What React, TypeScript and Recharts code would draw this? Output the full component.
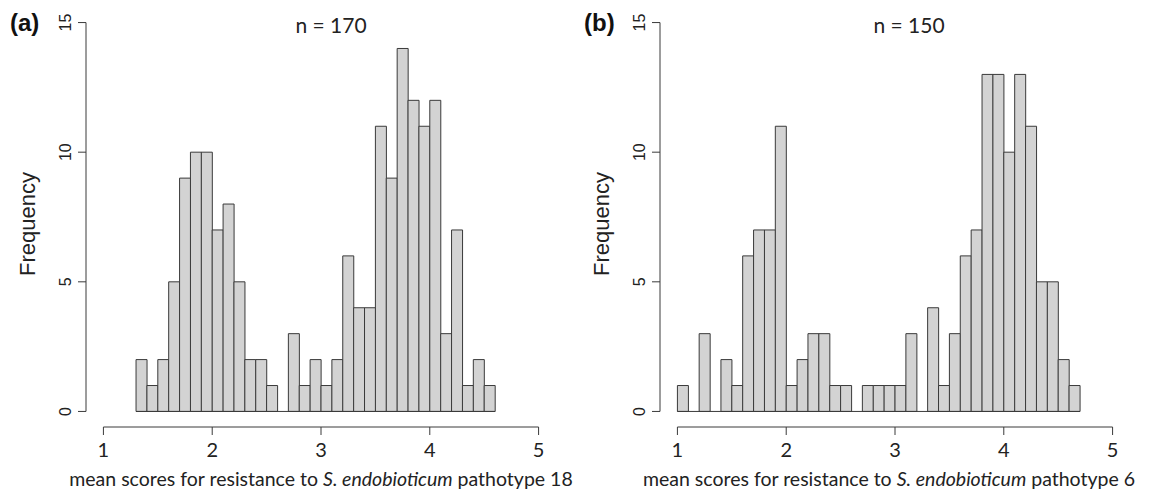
import { Bar, BarChart, Label, ReferenceLine, XAxis, YAxis } from 'recharts'

const binWidth = 0.1
const firstEdgeA = 1.3
const countsA = [2, 1, 2, 5, 9, 10, 10, 7, 8, 5, 2, 2, 1, 0, 3, 1, 2, 1, 2, 6, 4, 4, 11, 9, 14, 12, 11, 12, 3, 7, 1, 2, 1]
const firstEdgeB = 1.0
const countsB = [1, 0, 3, 0, 2, 1, 6, 7, 7, 11, 1, 2, 3, 3, 1, 1, 0, 1, 1, 1, 1, 3, 0, 4, 1, 3, 6, 7, 13, 13, 10, 13, 11, 5, 5, 2, 1]

const xTicks = [1, 2, 3, 4, 5]
const yTicks = [0, 5, 10, 15]
const xDomain: [number, number] = [0.84, 5.16]
const yDomain: [number, number] = [-0.6, 15.6]

const ink = '#3a3a3a'
const calibriLike = 'Lato, "Open Sans", sans-serif'
const arialLike = '"Liberation Sans", Arial, sans-serif'

function toBins(firstEdge: number, counts: number[]) {
  return counts.map((count, i) => {
    const lo = firstEdge + i * binWidth
    return { mid: +(lo + binWidth / 2).toFixed(3), count }
  })
}

const XTick = ({ x, y, payload }: any) => (
  <text x={x} y={y + 20} textAnchor="middle" fontFamily={calibriLike} fontSize={20} fill="#222">
    {payload.value}
  </text>
)

const YTick = ({ x, y, payload }: any) => (
  <text
    x={x - 10}
    y={y}
    transform={`rotate(-90, ${x - 10}, ${y})`}
    textAnchor="middle"
    dominantBaseline="central"
    fontFamily={arialLike}
    fontSize={16}
    fill="#222"
  >
    {payload.value}
  </text>
)

function Panel({ tag, title, pathotype, firstEdge, counts, titleX, labelDx }: any) {
  const data = toBins(firstEdge, counts)
  const lastEdge = firstEdge + counts.length * binWidth
  return (
    <div style={{ position: 'relative', width: 574, height: 493 }}>
      <div
        style={{
          position: 'absolute',
          left: 10,
          top: 8,
          fontFamily: arialLike,
          fontWeight: 'bold',
          fontSize: 24,
          lineHeight: '30px',
          color: '#111',
        }}
      >
        {tag}
      </div>
      <div
        style={{
          position: 'absolute',
          left: titleX - 60,
          width: 120,
          top: 10,
          textAlign: 'center',
          fontFamily: calibriLike,
          fontSize: 21,
          lineHeight: '30px',
          color: '#222',
        }}
      >
        {title}
      </div>
      <BarChart
        width={574}
        height={493}
        data={data}
        margin={{ top: 7, right: 18, bottom: 0, left: 0 }}
        barCategoryGap={0}
        barGap={0}
        style={{ overflow: 'visible' }}
      >
        <XAxis
          dataKey="mid"
          type="number"
          domain={xDomain}
          ticks={xTicks}
          allowDataOverflow
          axisLine={false}
          tickLine={{ stroke: ink }}
          tickSize={8}
          tick={<XTick />}
          height={66}
        >
          <Label
            content={({ viewBox }: any) => (
              <text
                x={viewBox.x + viewBox.width / 2 + labelDx}
                y={viewBox.y + 59}
                textAnchor="middle"
                fontFamily={calibriLike}
                fontSize={19.5}
                fill="#222"
              >
                mean scores for resistance to <tspan fontStyle="italic">S. endobioticum</tspan> pathotype {pathotype}
              </text>
            )}
          />
        </XAxis>
        <YAxis
          type="number"
          domain={yDomain}
          ticks={yTicks}
          allowDataOverflow
          axisLine={false}
          tickLine={{ stroke: ink }}
          tickSize={8}
          tick={<YTick />}
          width={86}
        >
          <Label
            content={() => (
              <text
                x={27}
                y={224}
                transform="rotate(-90, 27, 224)"
                textAnchor="middle"
                dominantBaseline="central"
                fontFamily={arialLike}
                fontSize={22}
                fill="#222"
              >
                Frequency
              </text>
            )}
          />
        </YAxis>
        <ReferenceLine
          segment={[{ x: xTicks[0], y: yDomain[0] }, { x: xTicks[xTicks.length - 1], y: yDomain[0] }]}
          stroke={ink}
          ifOverflow="visible"
        />
        <ReferenceLine
          segment={[{ x: xDomain[0], y: yTicks[0] }, { x: xDomain[0], y: yTicks[yTicks.length - 1] }]}
          stroke={ink}
          ifOverflow="visible"
        />
        <ReferenceLine
          segment={[{ x: firstEdge, y: 0 }, { x: lastEdge, y: 0 }]}
          stroke={ink}
          ifOverflow="visible"
        />
        <Bar dataKey="count" fill="#d3d3d3" stroke={ink} strokeWidth={1} isAnimationActive={false} />
      </BarChart>
    </div>
  )
}

export default function App() {
  return (
    <div
      style={{
        position: 'absolute',
        left: 0,
        top: 0,
        width: 1149,
        height: 493,
        background: '#fff',
        display: 'flex',
        overflow: 'hidden',
      }}
    >
      <Panel tag="(a)" title="n = 170" pathotype="18" firstEdge={firstEdgeA} counts={countsA} titleX={331} labelDx={0} />
      <div style={{ position: 'absolute', left: 574, top: 0 }}>
        <Panel tag="(b)" title="n = 150" pathotype="6" firstEdge={firstEdgeB} counts={countsB} titleX={335} labelDx={-6} />
      </div>
    </div>
  )
}
